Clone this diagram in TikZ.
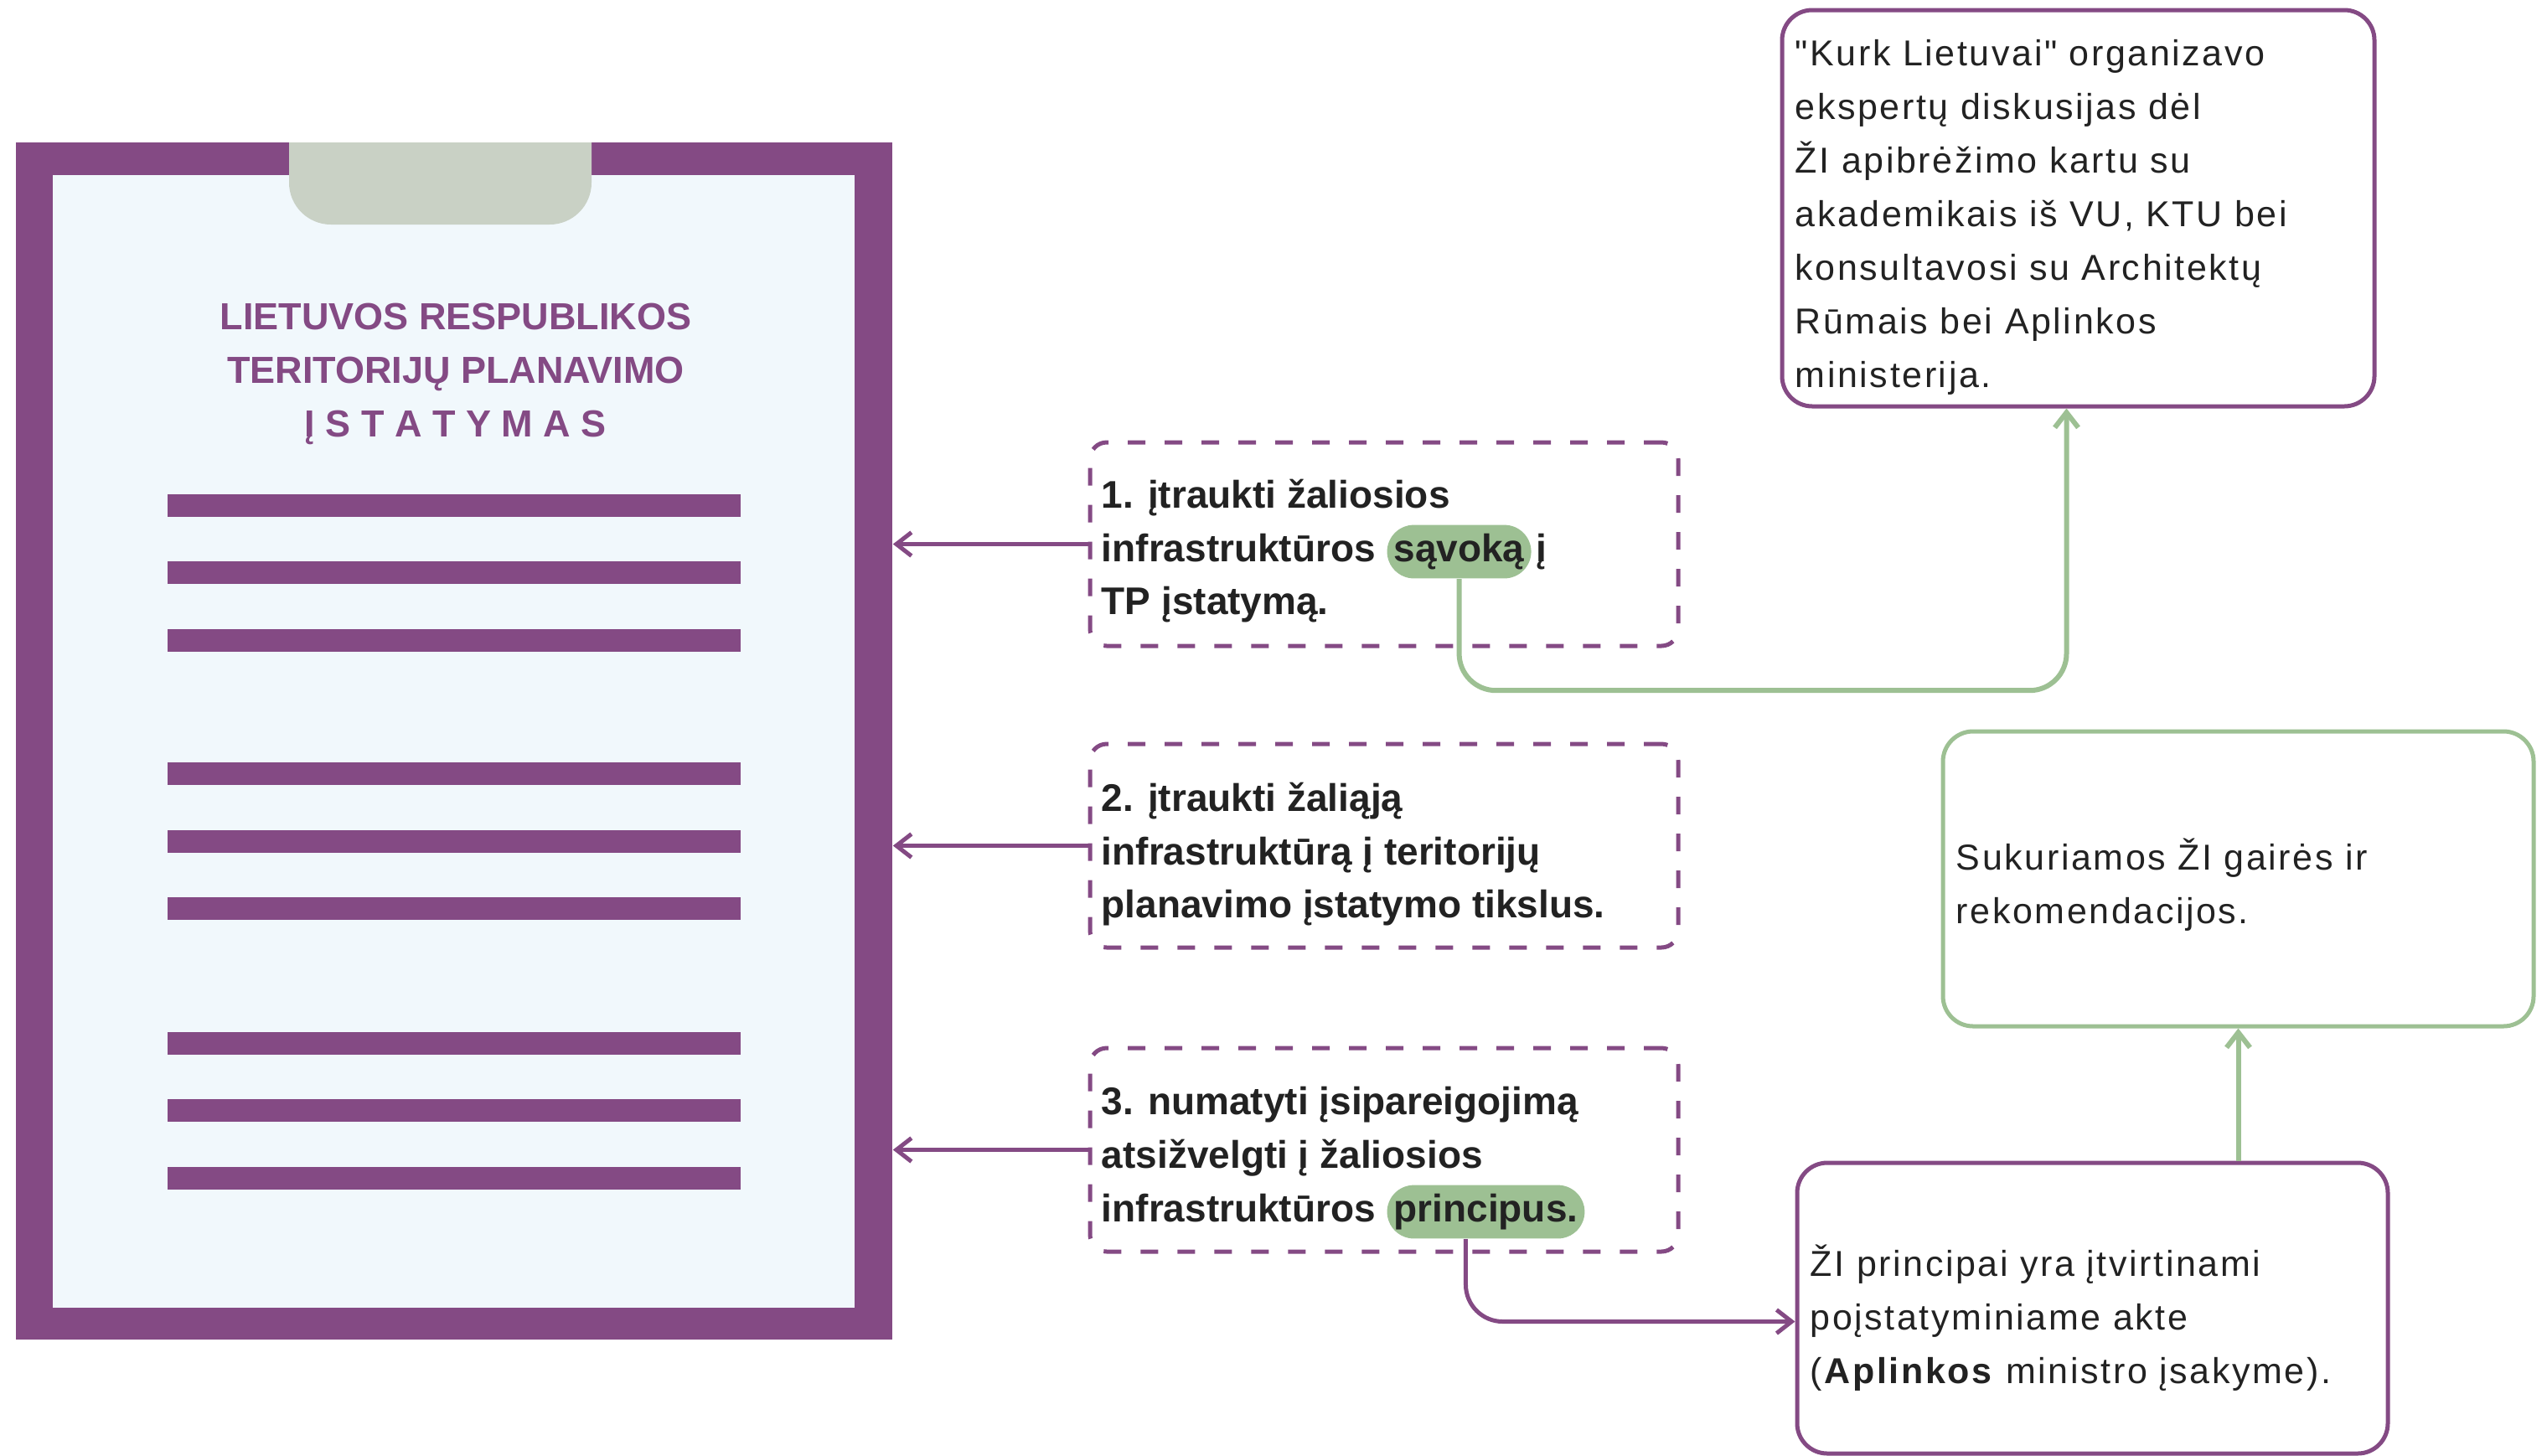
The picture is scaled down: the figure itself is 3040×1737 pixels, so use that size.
\documentclass[tikz,border=0pt]{standalone}
\usepackage{fontspec}
\setmainfont{Liberation Sans}
\newfontfamily\plainfont[LetterSpace=6]{Liberation Sans}
\usetikzlibrary{arrows.meta,calc,positioning}

\definecolor{lawpurple}{HTML}{844A84}
\definecolor{leafgreen}{HTML}{9DC093}
\definecolor{paperblue}{HTML}{F1F8FC}
\definecolor{tabgrey}{HTML}{C9D1C5}
\definecolor{inkgrey}{HTML}{222222}

\tikzset{
  dashbox/.style={draw=lawpurple, line width=1.25pt, dash pattern=on 5.25pt off 5.75pt,
    rounded corners=5pt, minimum width=175.5pt, minimum height=60.75pt, inner sep=0pt},
  notebox/.style={draw=#1, line width=1.25pt, rounded corners=9pt, inner sep=0pt},
  titletext/.style={anchor=base, inner sep=0pt, text=lawpurple,
    font=\fontsize{11.25}{14}\selectfont\bfseries},
  itemtext/.style={anchor=base west, inner sep=0pt, text=inkgrey,
    font=\fontsize{11.5}{14}\selectfont\bfseries},
  notetext/.style={anchor=base west, inner sep=0pt, text=inkgrey,
    font=\plainfont\fontsize{10.75}{14}\selectfont},
  pill/.style={itemtext, fill=leafgreen, rounded corners=8pt, inner xsep=2pt, inner ysep=2.6pt,
    text height=8.25pt, text depth=2.5pt},
  purplearrow/.style={draw=lawpurple, line width=1.25pt, -{Straight Barb[length=4.5pt,width=7pt]}},
  greenarrow/.style={draw=leafgreen, line width=1.5pt, rounded corners=11pt,
    -{Straight Barb[length=4.5pt,width=7pt]}}
}

\begin{document}
\begin{tikzpicture}[x=0.25pt,y=0.25pt,yscale=-1,xscale=1]
\useasboundingbox (0,0) rectangle (3040,1737);

%Shape: Clipboard
\node[fill=lawpurple, minimum width=261.5pt, minimum height=357.25pt, inner sep=0pt] (board) at (542,884.5) {};
\node[fill=paperblue, minimum width=239.25pt, minimum height=338pt, inner sep=0pt] (sheet) at (541.5,885) {};
%Shape: Clip
\begin{scope}
\clip (345,170) rectangle (706,268);
\fill[tabgrey, rounded corners=12.5pt] (345,100) rectangle (706,268);
\end{scope}

%Shape: Rectangle
\fill[lawpurple] (200,590) rectangle (884,617);
%Shape: Rectangle
\fill[lawpurple] (200,670) rectangle (884,697);
%Shape: Rectangle
\fill[lawpurple] (200,751) rectangle (884,778);
%Shape: Rectangle
\fill[lawpurple] (200,910) rectangle (884,937);
%Shape: Rectangle
\fill[lawpurple] (200,991) rectangle (884,1018);
%Shape: Rectangle
\fill[lawpurple] (200,1071) rectangle (884,1098);
%Shape: Rectangle
\fill[lawpurple] (200,1232) rectangle (884,1259);
%Shape: Rectangle
\fill[lawpurple] (200,1312) rectangle (884,1339);
%Shape: Rectangle
\fill[lawpurple] (200,1393) rectangle (884,1420);

% Text Node
\node[titletext] (title1) at (544,393) {LIETUVOS RESPUBLIKOS};
% Text Node
\node[titletext] (title2) at (544,457) {TERITORIJŲ PLANAVIMO};
% Text Node
\node[titletext] (title3) at (544,521) {Į S T A T Y M A S};

%Shape: Dashed boxes
\node[dashbox] (item1) at (1652,649.5) {};
\node[dashbox] (item2) at (1652,1009.5) {};
\node[dashbox] (item3) at (1652,1372.5) {};

% Text Node
\node[itemtext] (item1a) at (1314,606) {1. įtraukti žaliosios};
\node[itemtext] (item1b) at (1314,670) {infrastruktūros};
\node[pill] (savoka) at ([xshift=3pt]item1b.base east) {sąvoką};
\node[itemtext] (item1c) at ([xshift=1pt]savoka.base east) {į};
\node[itemtext] (item1d) at (1314,733) {TP įstatymą.};
% Text Node
\node[itemtext] (item2a) at (1314,968) {2. įtraukti žaliąją};
\node[itemtext] (item2b) at (1314,1032) {infrastruktūrą į teritorijų};
\node[itemtext] (item2c) at (1314,1095) {planavimo įstatymo tikslus.};
% Text Node
\node[itemtext] (item3a) at (1314,1330) {3. numatyti įsipareigojimą};
\node[itemtext] (item3b) at (1314,1394) {atsižvelgti į žaliosios};
\node[itemtext] (item3c) at (1314,1458) {infrastruktūros};
\node[pill] (principus) at ([xshift=3pt]item3c.base east) {principus.};

%Straight Lines
\draw[purplearrow] (item1.west) -- (item1.west -| board.east);
\draw[purplearrow] (item2.west) -- (item2.west -| board.east);
\draw[purplearrow] (item3.west) -- (item3.west -| board.east);

%Shape: Note boxes
\node[notebox=lawpurple, minimum width=176.75pt, minimum height=118.25pt] (kurk) at (2480.5,248.5) {};
\node[notebox=leafgreen, minimum width=176.25pt, minimum height=88pt] (guide) at (2671.5,1049) {};
\node[notebox=lawpurple, minimum width=176.25pt, minimum height=86.75pt] (order) at (2497.5,1561.5) {};

% Text Node
\node[notetext] (kurk1) at (2142,78) {"Kurk Lietuvai" organizavo};
\node[notetext] (kurk2) at (2142,142) {ekspertų diskusijas dėl};
\node[notetext] (kurk3) at (2142,206) {ŽI apibrėžimo kartu su};
\node[notetext] (kurk4) at (2142,270) {akademikais iš VU, KTU bei};
\node[notetext] (kurk5) at (2142,334) {konsultavosi su Architektų};
\node[notetext] (kurk6) at (2142,398) {Rūmais bei Aplinkos};
\node[notetext] (kurk7) at (2142,462) {ministerija.};
% Text Node
\node[notetext] (guide1) at (2334,1038) {Sukuriamos ŽI gairės ir};
\node[notetext] (guide2) at (2334,1102) {rekomendacijos.};
% Text Node
\node[notetext] (order1) at (2160,1523) {ŽI principai yra įtvirtinami};
\node[notetext] (order2) at (2160,1587) {poįstatyminiame akte};
\node[notetext] (order3) at (2160,1651) {(\textbf{Aplinkos} ministro įsakyme).};

%Connectors
\draw[greenarrow] (savoka.south) -- ++(0,133) -| ($(kurk.south)+(-14,0)$);
\draw[purplearrow, rounded corners=11pt] ($(principus.south)+(-24,0)$) |- ($(order.west)+(0,16)$);
\draw[greenarrow] (order.north -| guide.south) -- (guide.south);

\end{tikzpicture}
\end{document}
